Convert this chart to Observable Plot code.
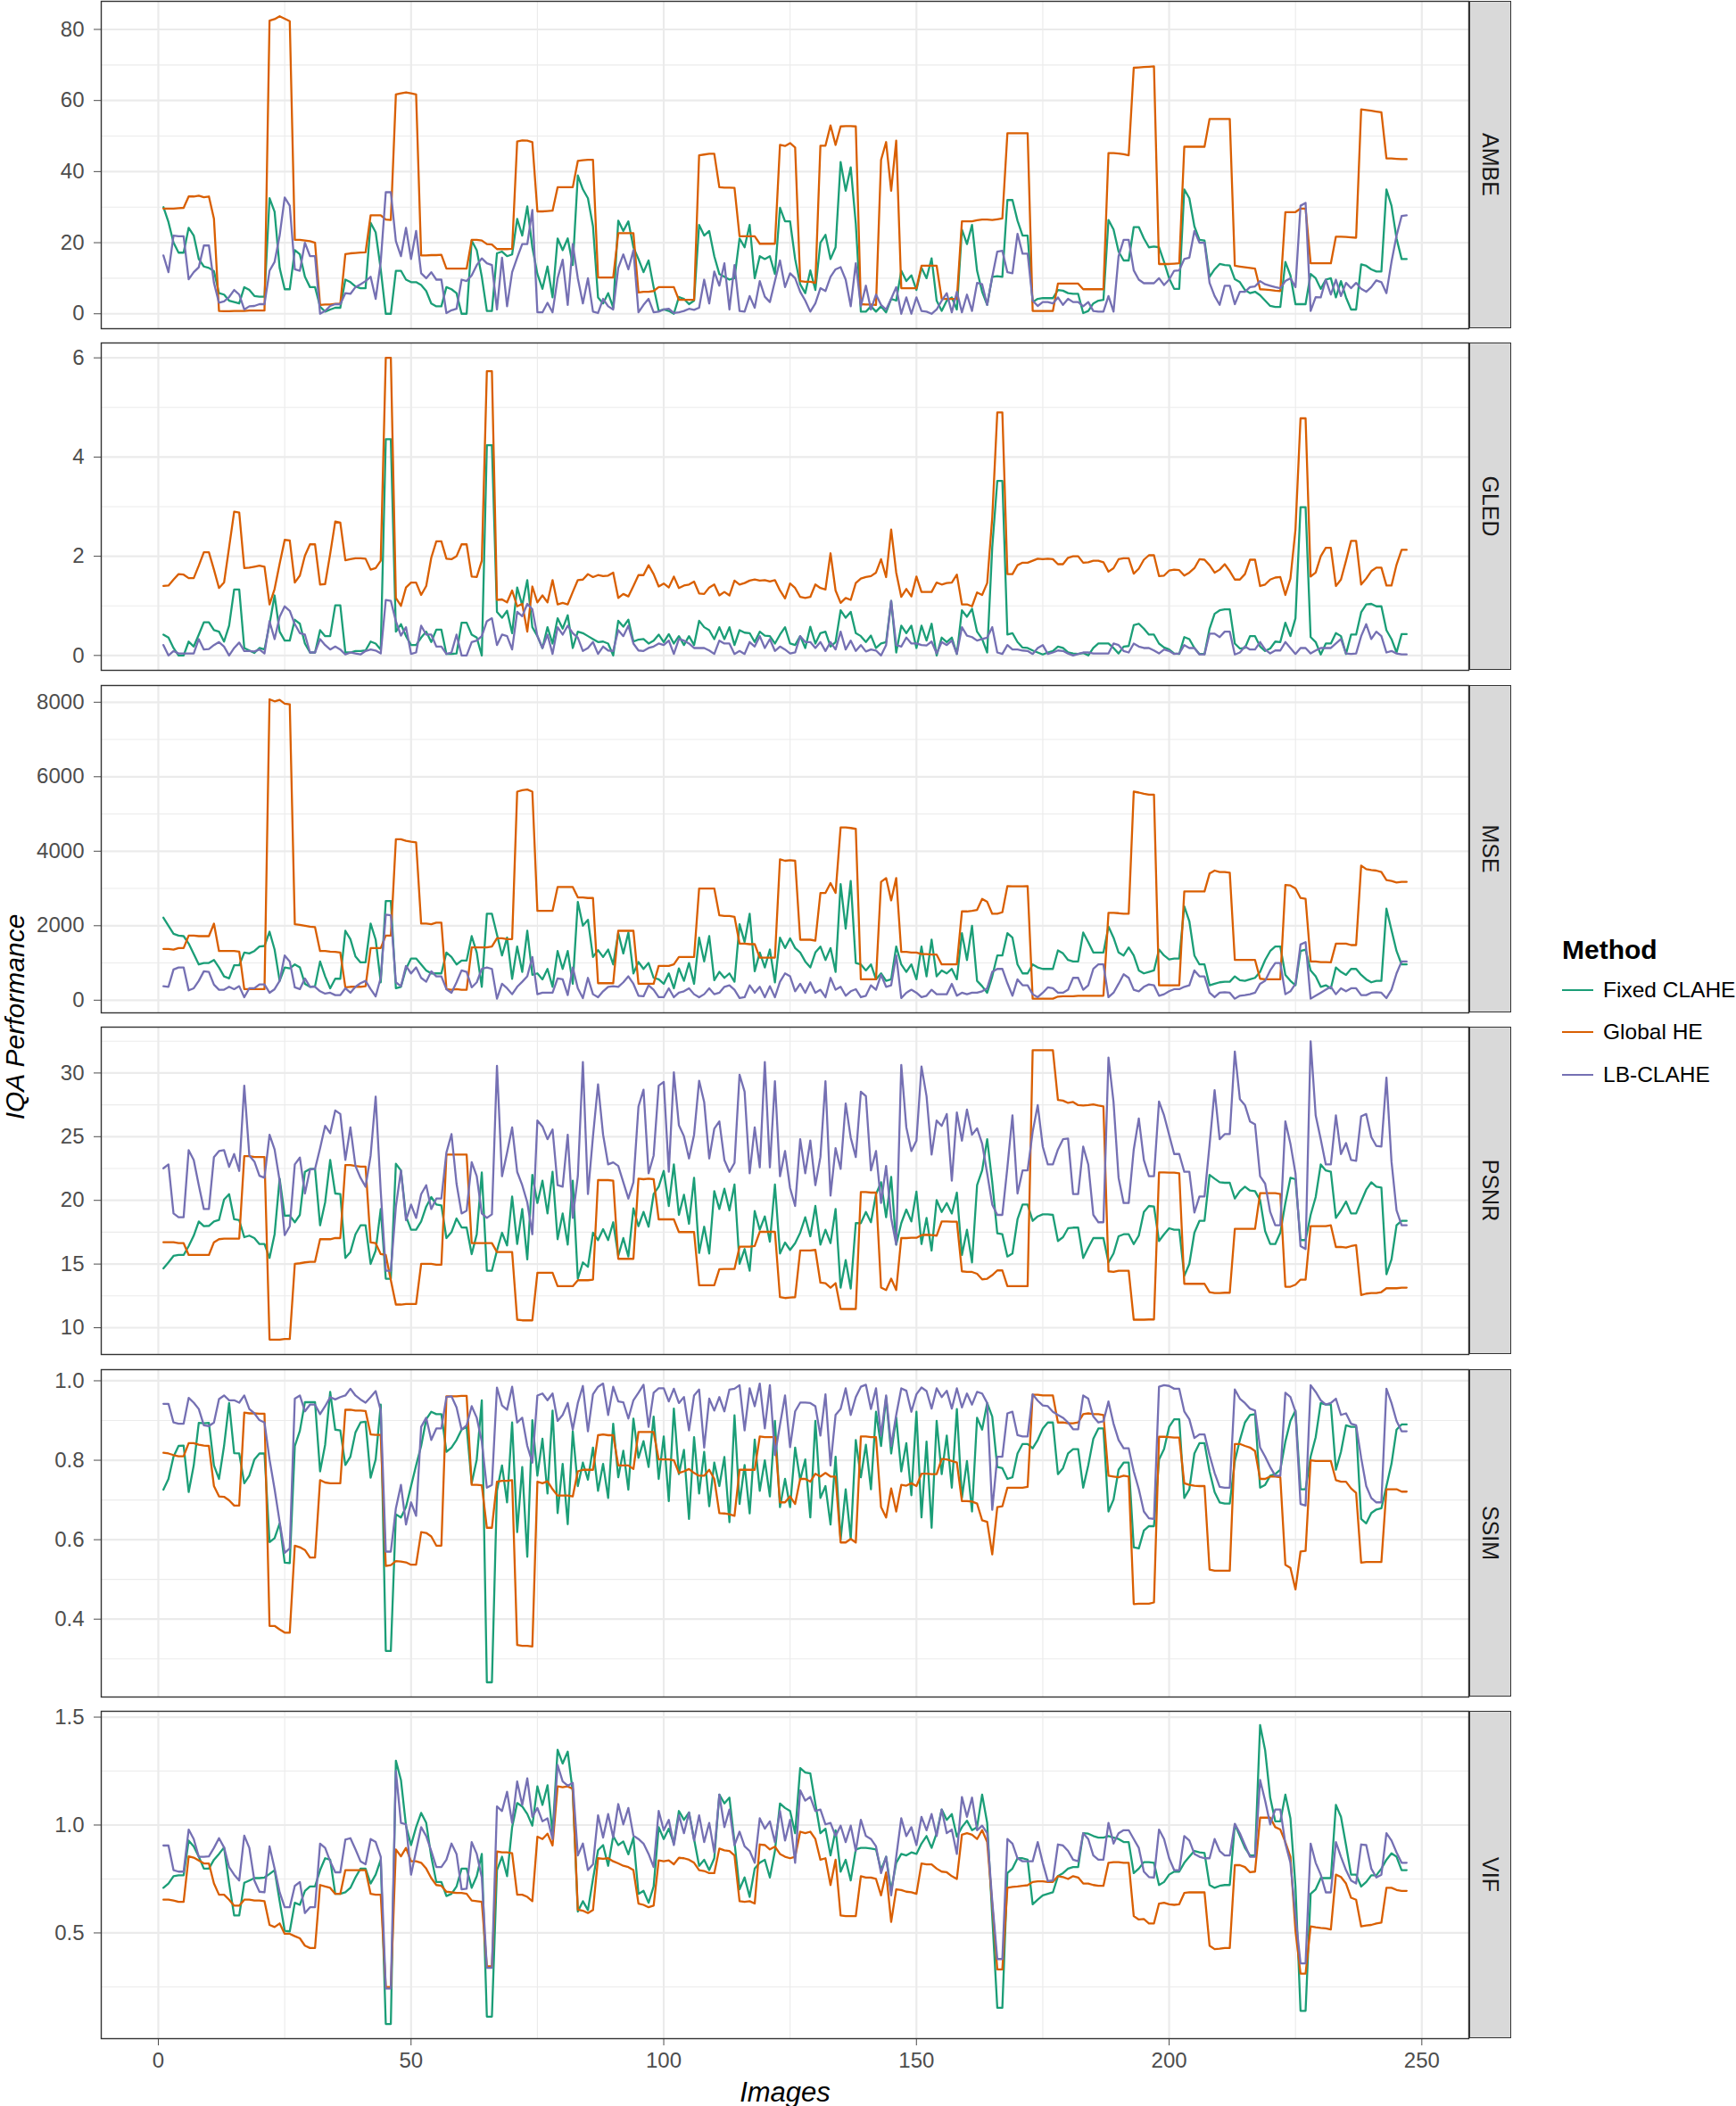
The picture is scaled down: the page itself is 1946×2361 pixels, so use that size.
<!DOCTYPE html>
<html><head><meta charset="utf-8">
<script src="https://cdn.jsdelivr.net/npm/d3@7"></script>
<script src="https://cdn.jsdelivr.net/npm/@observablehq/plot@0.6"></script>
<style>
body{margin:0;background:#fff;font-family:"Liberation Sans",Arial,Helvetica,sans-serif;}
#root{position:relative;width:1946px;height:2361px;overflow:hidden;background:#fff;}
.panel{position:absolute;left:0;}
.strip{position:absolute;left:1647px;width:47px;height:367px;background:#D9D9D9;border:1.4px solid #333;box-sizing:border-box;display:flex;align-items:center;justify-content:center;}
.strip span{transform:rotate(90deg);white-space:nowrap;font-size:25px;color:#1A1A1A;}
#ylab{position:absolute;left:17px;top:1140px;transform:translate(-50%,-50%) rotate(-90deg);font-style:italic;font-size:30px;line-height:1;color:#000;white-space:nowrap;}
#xlab{position:absolute;left:880px;top:2345px;transform:translate(-50%,-50%);font-style:italic;font-size:31px;line-height:1;color:#000;white-space:nowrap;}
#legend{position:absolute;left:1751px;top:1044px;}
#legend .title{font-weight:bold;font-size:30px;color:#000;height:42px;line-height:42px;}
#legend .item{display:flex;align-items:center;height:47.5px;}
#legend .key{width:35px;height:0;border-top:2.4px solid;margin-right:11px;}
#legend .lbl{font-size:24.5px;color:#000;}
</style>
</head><body><div id="root"></div>
<script>
const N = 247;
const methods = ["Fixed CLAHE", "Global HE", "LB-CLAHE"];
const facetNames = ["AMBE", "GLED", "MSE", "PSNR", "SSIM", "VIF"];
const xTicks = [0, 50, 100, 150, 200, 250];
const xMinor = [25, 75, 125, 175, 225];
const ambeTicks = [0, 20, 40, 60, 80];
const gledTicks = [0, 2, 4, 6];
const mseTicks = [0, 2000, 4000, 6000, 8000];
const psnrTicks = [10, 15, 20, 25, 30];
const ssimTicks = [0.4, 0.6, 0.8, 1.0];
const vifTicks = [0.5, 1.0, 1.5];

const ambe_global = [29.6,29.6,29.6,29.7,29.8,33,33,33.2,32.8,33,
26.7,0.8,0.7,0.7,0.8,0.8,0.8,0.9,0.9,0.9,
0.9,82.5,82.9,83.7,83,82.3,20.8,20.8,20.6,20.4,
20,2.5,2.6,2.6,2.8,2.8,16.8,17,17.1,17.2,
17.3,27.7,27.7,27.7,26.5,26.4,61.7,62,62.3,62,
61.7,16.4,16.4,16.5,16.5,16.6,12.7,12.7,12.7,12.7,
12.7,20.8,20.8,20.6,19.6,19.5,18.2,18.2,18.2,18.3,
48.5,48.8,48.7,48.3,28.8,28.8,28.9,29,35.6,35.6,
35.6,35.6,43,43.2,43.3,43.3,10.2,10.2,10.2,10.2,
22.7,22.7,22.7,22.7,6,6.2,6.2,6.4,7.5,7.5,
7.5,7.5,3.9,3.9,3.9,3.9,44.6,44.8,45,45,
35.6,35.5,35.5,35.4,21.8,21.8,21.8,21.8,19.7,19.7,
19.7,19.7,47.5,47.2,48,46.8,9.2,9,9,8.7,
47.3,47.3,53,47.5,52.7,52.8,52.8,52.7,2.7,2.6,
2.6,2.5,43.3,48.3,34.6,48.7,7.2,7.2,7.2,7.2,
13.5,13.5,13.5,13.5,4.2,4.2,4.2,4.2,26,26,
26,26.3,26.5,26.5,26.4,26.6,26.8,50.8,50.8,50.8,
50.8,50.8,0.8,0.8,0.8,0.8,0.8,8.5,8.5,8.5,
8.5,8.5,6.9,6.9,6.9,6.9,6.9,45.2,45.2,45.1,
44.9,44.6,69.2,69.3,69.4,69.5,69.6,14,14,14,
14.1,14.2,47,47,47,47,47,54.8,54.8,54.8,
54.8,54.8,13.5,13.3,13.1,12.9,12.7,6.9,6.8,6.7,
6.5,6.4,28.6,28.6,28.6,29.6,29.6,14.2,14.2,14.2,
14.2,14.2,21.7,21.7,21.6,21.5,21.4,57.5,57.3,57.1,
56.9,56.7,43.7,43.7,43.6,43.5,43.5];
const ambe_fixed = [30,25.8,20,17.2,17.2,24.2,22,15.4,13.3,12.9,
12,5.8,5.4,3.7,3.3,2.9,7.5,6.7,5,4.8,
4.8,32.5,28.7,12.9,6.9,6.9,17.9,16.7,10.4,7.5,
7.5,2,0.6,1.2,1.7,1.7,9.6,8.9,7.7,7.2,
7.2,25.6,22.9,12.5,0,0,12.1,12.1,9.6,8.9,
8.9,8.1,6.4,2.9,2.1,2.1,7.5,6.9,5.8,0,
0,20.6,17.9,10.4,0.8,0.8,17,17.5,16.2,16.7,
26.7,22,30.2,18.7,11.2,7,13.3,4.6,21.2,17.9,
21.2,13.7,38.9,35,32.5,24.6,4.6,2.9,5.8,1.7,
26.2,23.3,26,18.7,15.4,11.7,15,7.5,0.8,1.2,
0.8,0,4.7,4.2,2.7,3.7,25,22,23.3,16.2,
11.2,10.4,9.6,10,21.2,18.7,25,10,16.2,15.4,
16.2,11.2,29.8,26,26,15.4,8.3,5.8,12.2,6.7,
20,22.2,15.4,18.7,42.7,34.6,41.2,25.4,0.6,0.6,
2.1,0.6,2.1,0.4,4.2,3.7,12.1,9.2,10.8,6.7,
12.9,10,15.6,3.7,0.8,3.7,4.6,1.2,23.7,19.6,
25,12.1,6.2,2.5,10.4,10.6,10.4,32,32,26.2,
22,22,3.3,4.2,4.4,4.4,4.4,6.7,6.5,5.8,
5.6,5.6,0.2,0.8,2.9,3.7,3.9,26.4,23.7,17.5,
15,15,24.4,24.4,21.2,18.7,18.9,18.7,14.6,10,
7,7,35,32.5,24.6,20.8,20.6,10.4,12.5,14,
13.7,13.6,9.7,8.9,6.7,5.8,6.2,5.2,3.7,2.2,
1.9,1.9,14.6,10.8,2.7,2.7,2.7,11.2,10,7,
9.6,10,4.6,9.2,4.6,1.2,1.2,13.9,13.5,12.5,
11.9,11.9,35,30.4,21.2,15.4,15.4];
const ambe_lb = [16.4,11.7,22,21.8,21.8,9.7,11.7,13.1,19.2,19.2,
8.7,3.1,3.5,4.7,6.7,5.4,1.2,2.1,2.2,2.7,
2.7,12.1,14.6,22,32.7,30.4,12.5,12.1,20,16.2,
16.2,0,0.8,2.2,2.7,2.7,5.8,5.6,7.5,8.3,
9.2,10.4,4.2,14.6,34.2,34.2,20.4,16.2,24.2,15.4,
23.3,11.4,10,11.7,9.6,9.6,0.2,1,1.4,9.6,
9.2,10.8,13.7,15.6,14.2,13.7,1.2,15.8,2.1,11.7,
15.8,19.6,19.6,29.2,0.4,0.4,3.1,0.4,10,15.2,
2.5,19.6,10,2.9,10,0.6,0.2,4.2,2.1,1.2,
12.9,16.7,12.5,17.9,0.4,2.5,4.2,0.4,0.6,1.2,
1.4,0.2,0.4,0.8,1.4,1.1,1.7,9.6,2.9,11.9,
7.9,14.2,1.2,13.7,0.8,0.6,5,1.7,9.2,4.8,
3.3,9.2,15,7.5,11.4,10,6.2,3.7,0.6,2.9,
7.2,6.4,10.4,12.5,13.1,9.6,2.1,14.2,2.1,7.9,
1.2,5.4,2.5,1.2,4.2,7.5,0,4.6,0,4.6,
0.8,0.6,0,1.2,3.7,5.8,0.4,6.2,0.4,5.4,
0.8,8.7,8.3,2.5,10.4,17.5,17.7,11.7,11.4,22.5,
16.9,16.9,3.7,2.2,3.3,3.3,2.9,4.6,2.5,4.2,
3.3,3.3,2.1,3.3,0.8,0.6,0.6,5,0.6,16.2,
20.8,20.8,12.2,9.6,8.6,8.6,8.6,10,8.1,9.6,
12.1,12.2,15.4,15.8,23.3,20,20,8.7,5,2.5,
7.9,7.9,2.7,6.2,6.2,7.5,7.7,9.2,8.3,7.9,
7.5,7.2,9.2,10,7.5,30.4,31.2,0.8,4.7,4.6,
9.6,5.4,9.6,5,8.7,7.2,8.7,7,6.2,7.5,
9.4,8.9,5.8,14.6,22,27.5,27.7];

const gled_global = [1.40,1.41,1.53,1.64,1.63,1.56,1.56,1.81,2.08,2.08,
1.73,1.36,1.47,2.18,2.9,2.88,1.76,1.77,1.79,1.81,
1.79,1.03,1.34,1.85,2.33,2.32,1.47,1.61,2.01,2.24,
2.24,1.43,1.44,2.05,2.7,2.68,1.92,1.94,1.96,1.96,
1.95,1.73,1.76,1.91,6.0,6.0,1.16,1.0,1.37,1.47,
1.47,1.22,1.4,1.97,2.3,2.3,1.95,1.94,2.0,2.24,
2.24,1.59,1.58,1.91,5.73,5.73,1.12,1.13,1.07,1.31,
0.99,1.04,0.48,1.39,1.07,1.21,1.07,1.52,1.03,1.06,
1.03,1.28,1.52,1.53,1.64,1.58,1.62,1.6,1.61,1.67,
1.16,1.24,1.19,1.4,1.62,1.62,1.82,1.64,1.39,1.45,
1.37,1.59,1.36,1.41,1.43,1.49,1.25,1.24,1.37,1.43,
1.21,1.28,1.21,1.51,1.43,1.46,1.51,1.53,1.51,1.52,
1.49,1.52,1.31,1.15,1.45,1.36,1.18,1.16,1.18,1.43,
1.36,1.33,2.06,1.31,1.06,1.16,1.12,1.46,1.55,1.58,
1.6,1.67,1.94,1.58,2.54,1.67,1.18,1.34,1.19,1.59,
1.28,1.28,1.28,1.47,1.43,1.46,1.47,1.63,1.03,1.03,
0.99,1.27,1.22,1.46,2.78,4.9,4.9,1.64,1.64,1.82,
1.87,1.87,1.91,1.95,1.94,1.95,1.94,1.84,1.84,1.97,
2.0,2.0,1.87,1.88,1.91,1.91,1.88,1.69,1.76,1.94,
1.96,1.96,1.65,1.75,1.93,2.02,2.02,1.6,1.61,1.71,
1.73,1.72,1.61,1.67,1.76,1.94,1.93,1.82,1.67,1.73,
1.84,1.7,1.53,1.53,1.64,1.93,1.93,1.4,1.43,1.53,
1.57,1.58,1.22,1.55,2.54,4.78,4.78,1.59,1.67,2.0,
2.17,2.17,1.4,1.53,1.91,2.31,2.31,1.43,1.55,1.7,
1.77,1.77,1.41,1.41,1.83,2.13,2.13];
const gled_fixed = [0.42,0.36,0.15,0,0,0.28,0.18,0.42,0.67,0.67,
0.51,0.48,0.28,0.6,1.33,1.33,0.15,0.1,0.05,0.15,
0.12,0.63,1.21,0.48,0.3,0.3,0.72,0.64,0.24,0.06,
0.06,0.51,0.39,0.39,1.01,1.01,0.06,0.06,0.09,0.09,
0.1,0.28,0.24,0.12,4.36,4.36,0.48,0.63,0.39,0.21,
0.21,0.36,0.48,0.27,0.52,0.52,0.03,0.03,0.04,0.66,
0.66,0.42,0.36,0,4.24,4.24,0.88,0.76,0.9,0.45,
1.37,1.01,1.52,0.57,0.39,0.15,0.57,0.24,0.75,0.54,
0.81,0.15,0.48,0.45,0.39,0.33,0.27,0.28,0.24,0,
0.7,0.58,0.72,0.28,0.32,0.33,0.24,0.3,0.42,0.27,
0.43,0.24,0.39,0.21,0.39,0.21,0.7,0.57,0.51,0.33,
0.57,0.33,0.57,0.21,0.51,0.46,0.45,0.27,0.48,0.4,
0.39,0.24,0.42,0.57,0.24,0.21,0.39,0.15,0.58,0.24,
0.45,0.48,0.18,0.27,0.91,0.76,0.88,0.45,0.39,0.27,
0.4,0.15,0.24,0.27,1.1,0.06,0.6,0.45,0.6,0.15,
0.6,0.3,0.64,0,0.36,0.27,0.36,0.03,0.91,0.78,
0.94,0.48,0.33,0.06,2.18,3.52,3.52,0.42,0.45,0.27,
0.16,0.15,0.1,0.06,0.02,0.06,0.09,0.18,0.15,0.06,
0.04,0.03,0.05,0,0.15,0.24,0.24,0.24,0.15,0.04,
0.18,0.19,0.61,0.64,0.54,0.42,0.42,0.24,0.16,0.12,
0.04,0.03,0.37,0.33,0.15,0.03,0.03,0.54,0.84,0.91,
0.93,0.93,0.24,0.14,0.15,0.39,0.39,0.18,0.09,0.14,
0.28,0.27,0.66,0.39,0.75,2.99,2.99,0.37,0.27,0.02,
0.24,0.24,0.45,0.39,0.03,0.42,0.42,0.87,1.03,1.04,
0.99,0.99,0.51,0.33,0.06,0.43,0.43];
const gled_lb = [0.21,0,0.09,0.04,0.04,0.04,0.04,0.33,0.12,0.13,
0.21,0.27,0.18,0,0.15,0.26,0.09,0.09,0.08,0.12,
0.04,0.69,0.33,0.78,0.99,0.9,0.63,0.45,0.42,0.06,
0.06,0.33,0.21,0.12,0.18,0.12,0.02,0.06,0.04,0.02,
0.09,0.12,0.1,0.04,1.12,1.1,0.69,0.4,0.57,0.03,
0.06,0.6,0.42,0.42,0.18,0.18,0.03,0.06,0.42,0,
0,0.27,0.3,0.39,0.69,0.75,0.21,0.42,0.39,0.12,
0.88,0.79,1.04,0.93,0.39,0.15,0.42,0.03,0.57,0.42,
0.6,0.45,0.36,0.09,0.15,0.27,0.03,0.18,0.1,0.09,
0.51,0.39,0.6,0.24,0.1,0.09,0.15,0.18,0.24,0.21,
0.3,0.03,0.33,0.3,0.24,0.15,0.15,0.15,0.1,0.03,
0.3,0.24,0.24,0.03,0.09,0.03,0.27,0.18,0.39,0.15,
0.33,0.09,0.18,0.12,0.04,0.06,0.39,0.27,0.27,0.15,
0.27,0.09,0.27,0.12,0.48,0.12,0.3,0.09,0.21,0.08,
0.12,0.1,0,0.21,1.1,0.21,0.18,0.36,0.24,0.24,
0.21,0.2,0.28,0.04,0.27,0.21,0.3,0.03,0.57,0.4,
0.37,0.3,0.33,0.36,0.57,0.06,0.03,0.21,0.12,0.12,
0.1,0.09,0.03,0.15,0.21,0.03,0.06,0.1,0.09,0.04,
0,0.03,0.06,0.06,0.04,0.04,0.04,0.04,0.24,0.21,
0.09,0.06,0.24,0.18,0.15,0.15,0.1,0.04,0.12,0.09,
0.03,0.04,0.21,0.15,0.15,0.02,0.02,0.44,0.44,0.37,
0.48,0.48,0.02,0.06,0.18,0.12,0.12,0.27,0.12,0.04,
0.1,0.1,0.27,0.15,0.03,0.15,0.15,0.04,0.1,0.15,
0.15,0.15,0.24,0.33,0.04,0.03,0.04,0.39,0.63,0.33,
0.48,0.39,0.06,0.09,0.04,0.02,0.02];

const mse_global = [1376,1376,1360,1400,1400,1736,1736,1720,1720,1720,
2056,1320,1320,1320,1320,1304,296,296,296,296,
296,8080,8024,8064,7960,7944,2040,2024,2000,1976,
1960,1320,1320,1304,1296,1280,344,360,360,360,
376,1400,1400,1400,1736,1736,4320,4320,4280,4256,
4240,2056,2056,2040,2080,2080,296,280,296,280,
280,1416,1416,1416,1416,1440,1664,1664,1640,1640,
5600,5640,5656,5600,2400,2400,2400,2400,3040,3040,
3040,3040,2760,2760,2744,2744,456,456,456,456,
1864,1864,1864,1864,440,440,440,440,920,920,
920,960,1160,1160,1160,1160,3000,3000,3000,3000,
2280,2264,2264,2240,1520,1520,1504,1504,1144,1144,
1144,1144,3784,3744,3760,3744,1624,1624,1624,1600,
2880,2880,3144,2880,4640,4640,4624,4600,560,560,
560,560,3176,3280,2680,3280,1296,1296,1280,1280,
1240,1240,1224,1224,960,960,960,960,2384,2384,
2400,2424,2720,2640,2320,2320,2360,3064,3056,3056,
3056,3064,40,40,40,40,40,96,104,104,
104,120,120,120,120,120,120,2344,2344,2336,
2320,2320,5600,5576,5544,5520,5520,400,400,400,
400,400,2920,2920,2920,2920,2920,3400,3480,3440,
3440,3424,1080,1080,1080,1080,1080,576,560,560,
560,560,3096,3080,3000,2744,2720,1040,1040,1024,
1024,1016,1520,1520,1520,1480,1480,3616,3520,3496,
3480,3440,3224,3200,3160,3176,3176];
const mse_fixed = [2216,2000,1784,1736,1720,1520,1240,960,1000,1000,
1080,880,640,584,936,936,1280,1256,1320,1440,
1456,1840,1360,520,880,856,960,880,440,360,
376,1040,640,320,576,576,1864,1640,1176,1016,
1016,2056,1624,480,2664,2664,320,360,840,1120,
1120,960,800,720,720,720,1280,1160,960,1064,
1064,1720,1280,360,2320,2320,1760,1200,1680,576,
1440,760,1864,680,720,560,840,360,1320,840,
1320,440,2640,2000,2160,1160,1344,1160,1360,960,
1800,1256,1816,720,1024,840,1000,600,560,440,
720,320,856,520,1000,440,1680,1040,1720,536,
760,600,720,496,2040,1560,2320,776,1280,880,
1360,480,1680,1400,1660,1400,1280,1040,880,1280,
1440,1080,1400,760,3120,1920,3200,1000,960,800,
960,560,720,520,560,1440,960,760,960,560,
1440,640,1624,640,800,720,840,560,1800,1080,
2000,520,376,200,640,1200,1200,1800,1680,960,
720,720,960,880,840,840,840,1336,1256,1080,
1040,1040,1816,1560,1280,1280,1280,1976,1680,1280,
1200,1416,1200,800,720,760,800,1360,1200,1096,
1120,1120,2520,2120,1200,960,960,400,440,480,
496,496,640,536,520,560,600,760,1080,1320,
1440,1440,680,520,400,1320,1360,800,640,360,
400,320,880,760,680,840,840,680,560,480,
520,520,2456,1880,1320,960,960];
const mse_lb = [376,360,824,880,880,264,320,520,776,760,
416,280,280,360,296,376,80,320,320,424,
424,200,296,520,1200,1040,344,296,584,360,
360,240,176,200,136,136,320,200,360,456,
520,296,104,600,2296,2280,480,376,920,720,
880,600,496,776,640,640,296,200,480,800,
760,344,480,840,880,840,40,440,320,160,
360,496,640,1160,160,200,200,200,584,560,
136,880,320,56,600,160,80,240,360,376,
360,480,640,440,120,104,400,280,80,80,
320,80,200,240,320,160,80,160,320,160,
200,360,400,280,56,80,400,200,360,80,
376,80,496,720,640,240,440,200,480,200,
280,80,600,280,360,120,240,296,80,120,
400,280,680,360,400,1200,56,200,280,200,
80,120,280,160,160,160,440,120,200,160,
200,200,240,320,760,840,840,456,120,560,
400,400,160,80,200,344,320,200,200,280,
600,600,280,400,840,960,960,80,200,440,
696,600,280,240,360,424,400,120,160,240,
296,296,360,400,800,640,640,200,80,200,
216,200,40,120,136,160,200,440,520,800,
1000,1000,160,240,440,1496,1560,40,120,200,
280,360,160,320,240,320,320,136,136,200,
216,200,56,280,720,1040,1040];

const psnr_global = [16.71,16.71,16.71,16.64,16.64,15.71,15.71,15.71,15.71,15.71,
16.71,16.95,17.0,17.0,17.0,17.0,23.47,23.47,23.4,23.4,
23.4,9.07,9.07,9.07,9.12,9.12,15.01,15.06,15.13,15.18,
15.18,16.95,16.95,16.95,17.04,17.04,22.77,22.77,22.7,22.65,
22.65,16.69,16.64,15.78,15.71,13.73,11.82,11.82,11.86,11.86,
11.86,15.01,15.01,15.01,14.94,14.94,23.59,23.59,23.59,23.59,
23.59,16.64,16.64,16.64,16.64,16.64,15.94,15.94,15.94,15.94,
10.63,10.58,10.58,10.58,14.31,14.31,14.31,14.31,13.26,13.26,
13.26,13.26,13.73,13.73,13.73,13.78,21.59,21.59,21.59,21.54,
15.41,15.41,15.41,15.41,21.7,21.66,21.7,21.66,18.51,18.51,
18.51,18.51,17.51,17.51,17.51,17.51,13.33,13.33,13.33,13.33,
14.59,14.62,14.62,14.62,16.36,16.36,16.36,16.41,17.53,17.53,
17.53,17.53,12.4,12.33,12.38,12.4,16.06,16.06,16.06,16.11,
13.54,13.5,13.15,13.5,11.47,11.47,11.47,11.47,20.65,20.65,
20.61,20.61,13.15,12.96,13.85,12.96,17.04,17.04,17.06,17.06,
17.27,17.3,17.27,17.23,18.34,18.34,18.32,18.32,14.43,14.38,
14.38,14.24,13.8,13.85,14.13,14.5,14.5,13.26,13.26,13.26,
13.26,13.26,31.79,31.79,31.79,31.79,31.79,27.88,27.83,27.65,
27.72,27.48,27.44,27.48,27.53,27.44,27.37,14.43,14.38,14.48,
14.48,14.48,10.63,10.63,10.63,10.65,10.65,22.19,22.19,22.17,
22.17,22.12,13.45,13.45,13.45,13.45,13.45,12.8,12.73,12.73,
12.75,12.75,17.76,17.76,17.76,17.76,17.76,20.56,20.56,20.56,
20.56,20.49,13.22,13.22,13.38,13.78,13.78,17.97,17.97,17.97,
17.97,18.04,16.34,16.34,16.29,16.41,16.48,12.56,12.68,12.73,
12.73,12.8,13.1,13.1,13.1,13.15,13.15];
const psnr_fixed = [14.66,15.13,15.64,15.71,15.71,16.41,17.23,18.34,17.97,18.0,
18.34,18.46,20.07,20.49,18.51,18.44,17.11,17.23,17.04,16.57,
16.57,15.48,17.34,21.7,18.79,18.81,18.28,18.86,22.24,22.47,
22.47,18.04,19.84,23.17,20.54,20.49,15.48,15.94,17.34,18.04,
18.04,15.01,16.06,19.32,13.85,13.85,22.87,22.35,18.74,17.69,
17.69,18.34,19.51,20.26,19.67,19.6,17.04,17.51,18.58,17.88,
17.86,15.78,17.34,22.19,14.48,14.48,16.06,17.46,16.46,20.3,
16.57,19.32,15.36,22.0,19.79,21.54,18.97,22.24,16.95,18.97,
16.53,21.54,13.85,15.13,14.78,17.46,16.88,17.74,16.88,18.28,
15.64,17.04,15.59,19.37,17.97,19.09,17.93,20.49,21.07,22.31,
19.56,22.82,18.86,20.44,18.16,21.77,15.87,17.93,15.83,20.72,
19.32,20.91,19.21,21.24,15.01,16.18,14.48,19.16,17.69,18.74,
16.76,21.24,15.83,16.69,16.11,16.64,17.46,18.67,17.18,19.56,
16.53,17.69,16.64,19.32,13.15,15.31,13.08,18.21,18.21,19.09,
18.28,20.49,21.42,18.67,21.84,16.53,18.21,19.28,18.34,20.68,
16.57,18.62,16.06,20.02,19.09,19.79,18.97,20.61,15.71,17.69,
15.13,21.19,22.35,24.8,21.42,17.41,17.34,15.59,15.83,18.51,
19.67,19.67,18.39,18.74,18.9,18.9,18.86,16.81,17.11,17.81,
17.86,17.86,15.48,16.29,17.04,17.04,17.04,15.13,15.83,17.18,
17.34,17.34,16.57,17.23,19.09,19.56,19.51,16.81,17.34,17.81,
17.69,17.69,14.08,15.01,17.46,18.39,18.39,22.0,21.7,21.42,
21.38,21.38,20.14,20.72,21.07,20.77,20.72,20.02,17.58,16.57,
16.57,17.46,19.79,21.77,21.66,16.88,16.88,18.86,20.26,22.82,
22.35,22.24,18.62,19.21,19.91,18.97,18.97,19.91,20.84,21.42,
21.07,21.0,14.2,15.36,18.04,18.39,18.39];
const psnr_lb = [22.52,22.82,18.97,18.67,18.67,23.94,23.17,21.19,19.32,19.32,
23.4,23.87,23.94,22.63,23.64,22.31,29.0,23.52,23.05,21.93,
21.77,25.15,24.0,21.54,17.27,17.97,22.82,23.36,20.54,22.42,
22.47,24.1,25.85,25.27,27.06,26.78,23.17,25.73,22.7,21.77,
21.07,23.52,28.14,20.72,14.48,14.48,19.51,22.35,18.44,19.67,
18.62,20.49,21.19,19.32,20.14,20.14,23.75,25.2,21.31,18.97,
19.2,23.0,21.89,18.97,18.62,18.9,30.56,21.89,23.75,25.73,
22.24,21.19,19.84,17.34,26.27,25.8,24.8,25.57,21.19,21.07,
25.15,18.62,21.89,30.86,20.49,25.03,29.11,25.15,22.82,22.98,
22.7,21.42,20.14,21.42,27.37,28.69,22.12,23.52,29.0,29.3,
22.24,30.05,25.9,25.03,23.29,25.15,29.39,27.72,23.29,25.62,
26.2,23.17,22.24,22.94,29.86,28.53,22.12,25.73,22.59,30.86,
22.59,29.35,21.89,23.87,20.96,19.56,24.8,22.12,24.69,21.19,
23.4,29.35,20.37,24.1,22.47,27.6,24.92,23.4,28.53,28.18,
22.35,23.87,19.79,22.7,18.62,16.53,30.63,25.73,23.87,24.69,
30.51,28.18,23.59,26.27,25.85,26.78,21.54,26.9,24.69,27.13,
25.15,25.66,24.45,22.12,19.67,18.86,18.86,22.59,26.67,20.54,
22.35,22.35,25.38,27.48,24.22,22.82,22.82,23.99,24.8,24.85,
20.49,20.49,24.22,22.82,18.86,18.28,18.28,31.21,27.72,21.77,
19.79,19.79,23.99,26.43,23.17,21.89,21.89,27.76,26.67,25.15,
23.64,23.64,22.24,22.24,19.04,20.3,20.3,24.34,28.65,24.8,
25.2,25.2,31.68,27.95,27.48,26.2,25.97,21.89,21.31,19.09,
18.04,18.04,26.2,24.45,22.12,16.41,16.18,32.49,26.67,24.8,
22.82,22.82,26.67,23.64,24.5,23.17,23.1,26.6,26.78,24.97,
24.27,24.22,29.63,23.05,19.21,18.04,18.04];

const ssim_global = [0.819,0.817,0.813,0.81,0.81,0.843,0.843,0.839,0.837,0.836,
0.735,0.709,0.708,0.699,0.686,0.686,0.92,0.918,0.918,0.917,
0.917,0.383,0.383,0.374,0.366,0.366,0.585,0.581,0.574,0.555,
0.555,0.75,0.744,0.742,0.742,0.742,0.927,0.927,0.925,0.925,
0.924,0.865,0.864,0.864,0.534,0.536,0.546,0.545,0.543,0.537,
0.537,0.619,0.617,0.608,0.585,0.585,0.961,0.961,0.961,0.962,
0.962,0.738,0.738,0.737,0.63,0.63,0.746,0.748,0.748,0.75,
0.335,0.333,0.333,0.331,0.746,0.742,0.747,0.727,0.711,0.711,
0.711,0.709,0.772,0.776,0.776,0.776,0.863,0.865,0.863,0.863,
0.787,0.787,0.787,0.778,0.871,0.871,0.871,0.871,0.802,0.802,
0.802,0.8,0.768,0.772,0.778,0.768,0.761,0.761,0.776,0.753,
0.667,0.666,0.664,0.66,0.776,0.776,0.776,0.776,0.86,0.858,
0.858,0.858,0.694,0.694,0.709,0.69,0.753,0.753,0.746,0.766,
0.759,0.768,0.759,0.759,0.593,0.593,0.602,0.593,0.86,0.86,
0.858,0.858,0.682,0.656,0.729,0.671,0.738,0.736,0.742,0.735,
0.766,0.766,0.765,0.765,0.803,0.802,0.798,0.794,0.697,0.697,
0.696,0.691,0.649,0.645,0.563,0.682,0.684,0.731,0.731,0.731,
0.731,0.733,0.965,0.965,0.963,0.963,0.963,0.895,0.895,0.893,
0.893,0.895,0.916,0.918,0.916,0.916,0.914,0.761,0.759,0.757,
0.761,0.759,0.438,0.439,0.439,0.439,0.442,0.859,0.859,0.858,
0.857,0.857,0.742,0.738,0.736,0.735,0.735,0.525,0.522,0.522,
0.522,0.522,0.841,0.841,0.836,0.832,0.823,0.753,0.753,0.759,
0.759,0.757,0.537,0.529,0.475,0.57,0.572,0.8,0.798,0.798,
0.798,0.798,0.75,0.746,0.746,0.729,0.718,0.542,0.544,0.544,
0.544,0.544,0.727,0.727,0.727,0.721,0.721];
const ssim_fixed = [0.726,0.753,0.809,0.836,0.837,0.72,0.787,0.894,0.893,0.894,
0.787,0.753,0.836,0.944,0.818,0.817,0.742,0.761,0.802,0.817,
0.817,0.594,0.604,0.641,0.542,0.541,0.836,0.874,0.946,0.946,
0.946,0.772,0.839,0.972,0.877,0.875,0.788,0.809,0.87,0.895,
0.897,0.756,0.802,0.94,0.32,0.32,0.664,0.656,0.682,0.735,
0.787,0.836,0.903,0.922,0.916,0.916,0.821,0.832,0.851,0.877,
0.884,0.742,0.802,0.951,0.241,0.241,0.723,0.787,0.694,0.895,
0.619,0.783,0.557,0.901,0.761,0.854,0.716,0.925,0.667,0.791,
0.639,0.873,0.735,0.794,0.751,0.832,0.723,0.791,0.705,0.892,
0.757,0.824,0.726,0.905,0.806,0.848,0.783,0.91,0.753,0.86,
0.697,0.93,0.765,0.826,0.652,0.858,0.716,0.821,0.684,0.794,
0.735,0.808,0.644,0.913,0.69,0.788,0.666,0.852,0.723,0.8,
0.709,0.899,0.682,0.753,0.682,0.832,0.75,0.802,0.656,0.899,
0.705,0.735,0.638,0.809,0.6,0.727,0.602,0.851,0.757,0.839,
0.727,0.922,0.836,0.959,0.817,0.907,0.772,0.843,0.712,0.922,
0.656,0.847,0.63,0.899,0.765,0.862,0.731,0.929,0.705,0.798,
0.671,0.907,0.877,0.944,0.91,0.783,0.78,0.753,0.757,0.817,
0.841,0.841,0.83,0.851,0.88,0.895,0.895,0.765,0.78,0.817,
0.828,0.828,0.731,0.787,0.854,0.88,0.88,0.671,0.701,0.776,
0.794,0.794,0.581,0.578,0.623,0.634,0.634,0.802,0.828,0.884,
0.903,0.903,0.705,0.727,0.817,0.843,0.843,0.772,0.72,0.694,
0.691,0.691,0.798,0.851,0.895,0.914,0.916,0.731,0.738,0.761,
0.765,0.776,0.847,0.899,0.925,0.727,0.727,0.809,0.858,0.944,
0.94,0.94,0.776,0.821,0.888,0.884,0.884,0.652,0.641,0.667,
0.676,0.679,0.735,0.791,0.877,0.89,0.89];
const ssim_lb = [0.942,0.942,0.895,0.892,0.892,0.957,0.945,0.929,0.888,0.886,
0.895,0.954,0.963,0.951,0.951,0.945,0.963,0.929,0.918,0.901,
0.895,0.802,0.727,0.645,0.567,0.578,0.955,0.963,0.923,0.94,
0.94,0.916,0.936,0.959,0.953,0.959,0.963,0.98,0.963,0.953,
0.945,0.959,0.974,0.925,0.57,0.57,0.679,0.738,0.638,0.694,
0.66,0.884,0.907,0.851,0.88,0.88,0.959,0.961,0.933,0.877,
0.888,0.936,0.907,0.847,0.731,0.738,0.983,0.938,0.927,0.985,
0.895,0.907,0.836,0.794,0.963,0.968,0.951,0.968,0.899,0.914,
0.944,0.877,0.944,0.987,0.873,0.966,0.985,0.993,0.914,0.985,
0.948,0.946,0.905,0.951,0.97,0.99,0.884,0.97,0.981,0.981,
0.948,0.98,0.944,0.959,0.875,0.963,0.978,0.832,0.955,0.925,
0.959,0.923,0.978,0.98,0.989,0.875,0.981,0.936,0.993,0.88,
0.989,0.813,0.889,0.963,0.833,0.923,0.945,0.945,0.944,0.936,
0.862,0.966,0.787,0.914,0.929,0.981,0.914,0.959,0.985,0.99,
0.929,0.981,0.862,0.963,0.836,0.914,0.981,0.975,0.922,0.966,
0.983,0.974,0.93,0.981,0.959,0.975,0.93,0.981,0.933,0.968,
0.94,0.972,0.968,0.944,0.675,0.809,0.809,0.918,0.922,0.863,
0.86,0.86,0.966,0.95,0.938,0.936,0.922,0.914,0.907,0.895,
0.878,0.878,0.963,0.955,0.91,0.895,0.898,0.948,0.892,0.851,
0.83,0.83,0.772,0.727,0.671,0.654,0.652,0.985,0.989,0.987,
0.98,0.98,0.923,0.903,0.856,0.865,0.865,0.813,0.768,0.733,
0.731,0.731,0.978,0.955,0.944,0.93,0.925,0.832,0.809,0.783,
0.761,0.761,0.97,0.959,0.922,0.69,0.686,0.989,0.972,0.951,
0.94,0.944,0.955,0.914,0.918,0.892,0.888,0.806,0.735,0.705,
0.694,0.694,0.98,0.944,0.899,0.873,0.873];

const vif_global = [0.654,0.654,0.65,0.644,0.644,0.855,0.849,0.836,0.822,0.822,
0.729,0.677,0.677,0.654,0.626,0.626,0.654,0.654,0.65,0.65,
0.647,0.537,0.527,0.544,0.496,0.496,0.485,0.475,0.441,0.43,
0.43,0.722,0.715,0.709,0.681,0.681,0.791,0.791,0.791,0.791,
0.791,0.681,0.677,0.677,0.249,0.249,0.887,0.855,0.894,0.832,
0.832,0.825,0.798,0.754,0.722,0.718,0.691,0.688,0.685,0.685,
0.681,0.65,0.647,0.644,0.345,0.345,0.877,0.873,0.873,0.869,
0.677,0.677,0.667,0.647,0.946,0.935,0.96,0.905,1.179,1.175,
1.179,1.168,0.608,0.603,0.592,0.606,0.846,0.843,0.846,0.832,
0.822,0.811,0.805,0.791,0.636,0.63,0.619,0.626,0.836,0.832,
0.836,0.818,0.848,0.846,0.839,0.825,0.791,0.787,0.777,0.777,
0.891,0.883,0.88,0.859,0.647,0.644,0.647,0.636,0.91,0.907,
0.887,0.9,0.866,0.853,0.846,0.853,0.969,0.962,0.969,0.935,
0.839,0.846,0.722,0.839,0.581,0.578,0.578,0.578,0.763,0.757,
0.757,0.75,0.674,0.78,0.551,0.702,0.699,0.691,0.688,0.681,
0.822,0.818,0.818,0.798,0.784,0.781,0.763,0.75,0.955,0.962,
0.955,0.935,0.976,0.921,0.633,0.331,0.331,0.709,0.713,0.715,
0.718,0.721,0.736,0.739,0.739,0.736,0.736,0.763,0.759,0.75,
0.763,0.757,0.729,0.729,0.722,0.718,0.718,0.825,0.828,0.828,
0.825,0.825,0.578,0.562,0.564,0.544,0.544,0.636,0.64,0.633,
0.63,0.633,0.685,0.688,0.688,0.688,0.688,0.441,0.425,0.427,
0.43,0.43,0.814,0.814,0.805,0.781,0.784,1.034,1.034,1.034,
0.99,0.979,0.921,0.853,0.51,0.311,0.311,0.53,0.526,0.523,
0.521,0.516,0.77,0.759,0.729,0.663,0.654,0.53,0.534,0.537,
0.544,0.548,0.709,0.709,0.699,0.695,0.695];
const vif_fixed = [0.709,0.729,0.763,0.767,0.767,0.928,0.901,0.853,0.798,0.798,
0.839,0.866,0.896,0.729,0.581,0.581,0.732,0.743,0.754,0.754,
0.757,0.773,0.791,0.647,0.51,0.507,0.64,0.63,0.695,0.715,
0.715,0.791,0.846,0.839,0.681,0.681,0.688,0.709,0.757,0.798,
0.798,0.729,0.77,0.839,0.078,0.078,1.298,1.209,0.997,0.907,
0.99,1.056,1.01,0.853,0.736,0.736,0.671,0.681,0.715,0.798,
0.798,0.709,0.763,0.866,0.112,0.112,0.791,0.853,0.763,0.99,
1.102,1.086,1.051,0.997,1.179,1.093,1.184,0.962,1.349,1.285,
1.34,1.154,0.599,0.647,0.606,0.75,0.883,0.907,0.811,0.949,
0.907,0.924,0.864,0.942,0.681,0.695,0.64,0.715,0.99,0.935,
0.983,0.914,1.065,1.024,1.058,0.935,0.811,0.839,0.791,0.846,
1.141,1.1,1.127,0.921,0.702,0.757,0.667,0.798,0.825,0.839,
0.757,0.88,1.1,1.079,1.065,0.962,1.264,1.243,1.239,1.099,
0.962,0.983,0.859,0.976,0.784,0.839,0.743,0.887,0.894,0.894,
0.891,0.887,0.791,0.853,0.695,0.825,0.866,0.859,0.873,0.866,
0.914,0.949,0.894,0.962,1.072,1.024,1.051,0.946,0.99,1.02,
0.976,0.99,1.141,1.01,0.578,0.153,0.153,0.777,0.798,0.846,
0.846,0.839,0.633,0.654,0.674,0.681,0.688,0.763,0.777,0.798,
0.805,0.805,0.962,0.96,0.949,0.942,0.942,0.949,0.942,0.935,
0.921,0.921,0.777,0.798,0.828,0.828,0.825,0.722,0.736,0.77,
0.784,0.784,0.825,0.853,0.88,0.873,0.87,0.722,0.709,0.718,
0.722,0.722,1.003,0.949,0.894,0.859,0.859,1.463,1.346,1.127,
1.017,1.017,1.141,1.031,0.715,0.139,0.139,0.681,0.702,0.754,
0.754,0.754,1.093,1.038,0.907,0.77,0.77,0.715,0.736,0.767,
0.767,0.798,0.839,0.869,0.853,0.791,0.791];
const vif_lb = [0.905,0.905,0.791,0.784,0.784,0.979,0.935,0.853,0.853,0.855,
0.894,0.939,0.896,0.805,0.77,0.743,0.951,0.894,0.743,0.691,
0.688,0.901,0.798,0.688,0.619,0.619,0.718,0.736,0.592,0.619,
0.619,0.914,0.894,0.832,0.781,0.781,0.932,0.939,0.887,0.832,
0.818,0.935,0.921,0.853,0.242,0.242,1.25,1.01,1.003,0.77,
0.88,0.99,0.949,0.88,0.805,0.805,0.839,0.914,0.866,0.702,
0.705,0.921,0.866,0.757,0.338,0.338,1.086,1.065,1.154,1.01,
1.202,1.093,1.216,1.038,1.079,1.017,1.031,0.935,1.278,1.202,
1.182,1.195,0.859,0.914,0.791,0.818,1.045,0.942,1.051,0.942,
1.097,1.003,1.079,0.951,0.935,0.914,0.866,0.805,1.065,0.976,
1.024,0.907,1.045,0.962,1.058,0.928,1.045,0.921,1.01,0.873,
1.141,0.99,1.072,0.907,0.969,0.901,0.88,0.825,1.031,0.983,
1.017,0.921,1.065,0.928,1.024,0.825,1.161,1.113,1.13,1.065,
1.072,1.003,1.01,0.949,0.997,0.921,0.997,0.88,1.024,0.949,
0.935,0.901,0.777,0.853,0.674,0.853,1.031,0.949,0.99,0.907,
1.038,0.976,1.051,0.949,1.072,0.962,0.979,0.866,1.13,1.038,
1.127,0.976,0.997,0.962,0.647,0.379,0.379,0.935,0.914,0.846,
0.832,0.832,0.832,0.921,0.825,0.74,0.743,0.91,0.905,0.88,
0.839,0.832,0.962,0.935,0.859,0.839,0.839,1.01,0.914,0.962,
0.976,0.976,0.935,0.894,0.784,0.759,0.757,0.979,0.935,0.846,
0.791,0.791,0.949,0.928,0.866,0.853,0.846,0.846,0.935,0.88,
0.859,0.859,1.006,0.962,0.907,0.853,0.853,1.209,1.113,1.003,
1.072,1.072,0.914,0.825,0.578,0.359,0.359,0.914,0.825,0.77,
0.688,0.688,0.921,0.853,0.791,0.743,0.729,0.91,0.907,0.798,
0.757,0.77,0.962,0.928,0.873,0.825,0.825];

// ---- layout / styling ----
const colors = ["#1B9E77", "#D95F02", "#7570B3"];
const panelTops = [1, 384, 768, 1151, 1535, 1918];
const panelH = 367;
const fmtInt = d3.format("d");
const fmt1 = d3.format(".1f");
const facets = [
  {name: facetNames[0], series: [ambe_fixed, ambe_global, ambe_lb], domain: [-4.2, 87.9], ticks: ambeTicks, minor: [10, 30, 50, 70], fmt: fmtInt},
  {name: facetNames[1], series: [gled_fixed, gled_global, gled_lb], domain: [-0.3, 6.3], ticks: gledTicks, minor: [1, 3, 5], fmt: fmtInt},
  {name: facetNames[2], series: [mse_fixed, mse_global, mse_lb], domain: [-340, 8450], ticks: mseTicks, minor: [1000, 3000, 5000, 7000], fmt: fmtInt},
  {name: facetNames[3], series: [psnr_fixed, psnr_global, psnr_lb], domain: [7.9, 33.6], ticks: psnrTicks, minor: [12.5, 17.5, 22.5, 27.5, 32.5], fmt: fmtInt},
  {name: facetNames[4], series: [ssim_fixed, ssim_global, ssim_lb], domain: [0.204, 1.028], ticks: ssimTicks, minor: [0.3, 0.5, 0.7, 0.9], fmt: fmt1},
  {name: facetNames[5], series: [vif_fixed, vif_global, vif_lb], domain: [0.01, 1.527], ticks: vifTicks, minor: [0.25, 0.75, 1.25], fmt: fmt1}
];

const root = document.getElementById("root");
facets.forEach((f, k) => {
  const rows = [];
  f.series.forEach((s, j) => s.forEach((v, i) => rows.push({img: i + 1, v, m: methods[j]})));
  const last = k === facets.length - 1;
  const extra = last ? 60 : 0;
  const chart = Plot.plot({
    width: 1648,
    height: panelH + 2 + extra,
    marginLeft: 113, marginRight: 2, marginTop: 1, marginBottom: 1 + extra,
    x: {domain: [-11.3, 259.3], axis: null},
    y: {domain: f.domain, axis: null},
    color: {domain: methods, range: colors},
    style: {fontFamily: '"Liberation Sans", Arial, Helvetica, sans-serif', fontSize: "24px", color: "#4D4D4D", background: "transparent", overflow: "visible"},
    marks: [
      Plot.ruleX(xMinor, {stroke: "#EBEBEB", strokeWidth: 1.1}),
      Plot.ruleY(f.minor, {stroke: "#EBEBEB", strokeWidth: 1.1}),
      Plot.ruleX(xTicks, {stroke: "#EBEBEB", strokeWidth: 2.2}),
      Plot.ruleY(f.ticks, {stroke: "#EBEBEB", strokeWidth: 2.2}),
      Plot.line(rows, {x: "img", y: "v", z: "m", stroke: "m", strokeWidth: 2.3}),
      Plot.axisY({ticks: f.ticks, tickFormat: f.fmt, tickSize: 8, tickPadding: 11, fontSize: 24, label: null}),
      last ? Plot.axisX({ticks: xTicks, tickFormat: fmtInt, tickSize: 8, tickPadding: 7, fontSize: 24, label: null}) : null,
      Plot.frame({stroke: "#333333", strokeWidth: 1.4})
    ]
  });
  const wrap = document.createElement("div");
  wrap.className = "panel";
  wrap.style.top = (panelTops[k] - 1) + "px";
  wrap.appendChild(chart);
  root.appendChild(wrap);
  const strip = document.createElement("div");
  strip.className = "strip";
  strip.style.top = panelTops[k] + "px";
  strip.innerHTML = "<span>" + f.name + "</span>";
  root.appendChild(strip);
});

const ylab = document.createElement("div");
ylab.id = "ylab"; ylab.textContent = "IQA Performance"; root.appendChild(ylab);
const xlab = document.createElement("div");
xlab.id = "xlab"; xlab.textContent = "Images"; root.appendChild(xlab);

const legend = document.createElement("div");
legend.id = "legend";
legend.innerHTML = '<div class="title">Method</div>' + methods.map((m, j) =>
  '<div class="item"><div class="key" style="border-color:' + colors[j] + '"></div><div class="lbl">' + m + '</div></div>').join("");
root.appendChild(legend);
</script>
</body></html>
